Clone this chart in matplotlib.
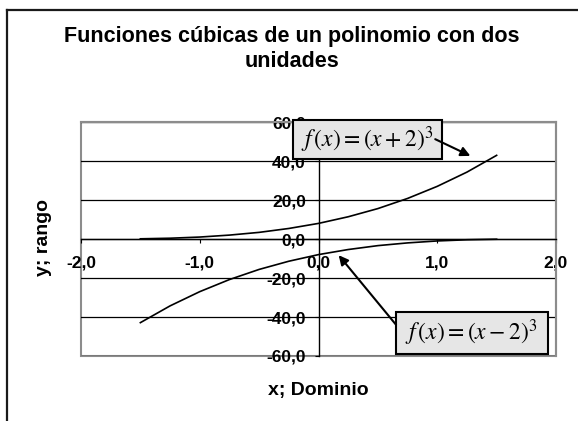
import matplotlib
matplotlib.use("Agg")
import matplotlib.pyplot as plt
from matplotlib.patches import Rectangle
from matplotlib.lines import Line2D
from matplotlib.ticker import FuncFormatter

# Data
x_vals = [-1.5, -1.25, -1.0, -0.75, -0.5, -0.25, 0.0, 0.25, 0.5, 0.75, 1.0, 1.25, 1.5]
y_plus2 = [0.1, 0.4, 1.0, 2.0, 3.4, 5.4, 8.0, 11.4, 15.6, 20.8, 27.0, 34.3, 42.9]
y_minus2 = [-42.9, -34.3, -27.0, -20.8, -15.6, -11.4, -8.0, -5.4, -3.4, -2.0, -1.0, -0.4, -0.1]
x_ticks = [-2.0, -1.0, 0.0, 1.0, 2.0]
y_ticks = [-60.0, -40.0, -20.0, 0.0, 20.0, 40.0, 60.0]

W, H = 578, 421
fig = plt.figure(figsize=(W / 100, H / 100), dpi=100)
fig.patch.set_facecolor("white")
plt.rcParams["mathtext.fontset"] = "stix"

def px(x0, y0, x1, y1):
    return [x0 / W, 1 - y1 / H, (x1 - x0) / W, (y1 - y0) / H]

ax = fig.add_axes(px(81, 122, 556, 356))
ax.set_xlim(-2, 2)
ax.set_ylim(-60, 60)

for y in y_ticks:
    ax.axhline(y, color="#000000", lw=0.9, zorder=1)

ax.plot(x_vals, y_plus2, color="black", lw=1.2, zorder=3)
ax.plot(x_vals, y_minus2, color="black", lw=1.2, zorder=3)

for s in ["top", "right"]:
    ax.spines[s].set_color("#8c8c8c")
    ax.spines[s].set_linewidth(1.5)
ax.spines["left"].set_position(("data", 0))
ax.spines["bottom"].set_position(("data", 0))
ax.spines["left"].set_color("black")
ax.spines["bottom"].set_color("black")
ax.spines["left"].set_linewidth(1.0)
ax.spines["bottom"].set_linewidth(1.0)
ax.add_patch(Rectangle((0, 0), 1, 1, transform=ax.transAxes, fill=False,
                       edgecolor="#8c8c8c", lw=1.5, zorder=0.5, clip_on=False))

fmt = FuncFormatter(lambda v, p: f"{v:.1f}".replace(".", ","))
ax.set_xticks(x_ticks)
ax.set_yticks(y_ticks)
ax.xaxis.set_major_formatter(fmt)
ax.yaxis.set_major_formatter(fmt)
ax.tick_params(axis="x", direction="out", length=3, pad=9, labelsize=12.5)
ax.tick_params(axis="y", direction="out", length=3, pad=6, labelsize=12.5)
for lab in ax.get_xticklabels() + ax.get_yticklabels():
    lab.set_fontweight("bold")
    lab.set_family("Liberation Sans")

# Annotation boxes
math1 = r"$f\,(x)=\left(x+2\right)^{3}$"
math2 = r"$f\,(x)=\left(x-2\right)^{3}$"

ax.add_patch(Rectangle((-0.214, 41.0), 1.252, 20.0, facecolor="#e6e6e6",
                       edgecolor="black", lw=1.5, zorder=5, clip_on=False))
ax.text(0.41, 51.0, math1, fontsize=17, ha="center", va="center", zorder=6, clip_on=False)
ax.annotate("", xy=(1.30, 42.0), xytext=(0.962, 51.8),
            arrowprops=dict(arrowstyle="-|>", color="black", lw=1.5, mutation_scale=14),
            zorder=6, annotation_clip=False)

ax.add_patch(Rectangle((0.651, -59.0), 1.278, 21.6, facecolor="#e6e6e6",
                       edgecolor="black", lw=1.5, zorder=5, clip_on=False))
ax.text(1.29, -48.2, math2, fontsize=17, ha="center", va="center", zorder=6, clip_on=False)
ax.annotate("", xy=(0.155, -7.2), xytext=(0.668, -45.1),
            arrowprops=dict(arrowstyle="-|>", color="black", lw=1.5, mutation_scale=14),
            zorder=6, annotation_clip=False)

# Titles and labels
fig.text(292 / W, 1 - 49 / H, "Funciones cúbicas de un polinomio con dos\nunidades",
         ha="center", va="center", multialignment="center", fontsize=15.5,
         fontweight="bold", family="Liberation Sans", linespacing=1.25)
fig.text(318 / W, 1 - 390 / H, "x; Dominio", ha="center", va="center", fontsize=14,
         fontweight="bold", family="Liberation Sans")
fig.text(43 / W, 1 - 238 / H, "y; rango", ha="center", va="center", rotation=90,
         fontsize=14, fontweight="bold", family="Liberation Sans")

# Outer chart border (left and top visible)
fig.add_artist(Line2D([7 / W, 7 / W], [0, 1 - 10 / H], transform=fig.transFigure,
                      color="#1a1a1a", lw=1.6))
fig.add_artist(Line2D([7 / W, 1], [1 - 10 / H, 1 - 10 / H], transform=fig.transFigure,
                      color="#1a1a1a", lw=1.6))

fig.savefig("out.png", dpi=100)
